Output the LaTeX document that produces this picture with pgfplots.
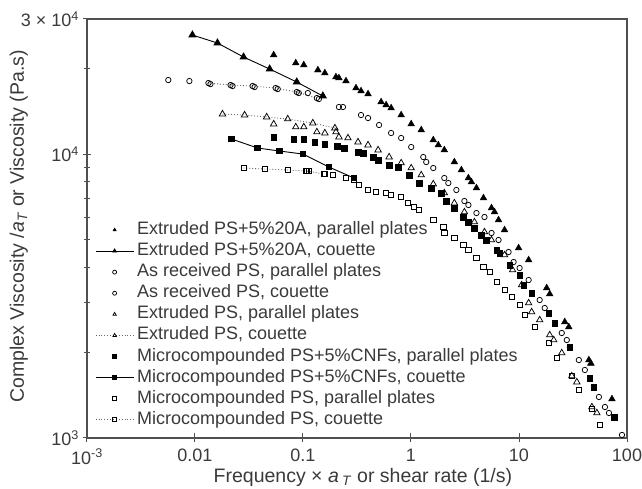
\documentclass[border=0pt]{standalone}
\usepackage{fontspec}
\setmainfont{Liberation Sans}
\usepackage{pgfplots}
\pgfplotsset{compat=1.18}
\definecolor{txt}{HTML}{3A3A3A}
\definecolor{ax}{HTML}{505050}
\pgfplotsset{
  marksonly legend/.style={legend image code/.code={\draw[only marks,mark repeat=2,mark phase=2,##1] plot coordinates {(0bp,0bp) (19bp,0bp) (38bp,0bp)};}},
}

\begin{document}
\begin{tikzpicture}
\path[use as bounding box] (-87bp,-51bp) rectangle (555bp,438bp);
\begin{axis}[
  xmode=log, ymode=log,
  scale only axis, width=540bp, height=419bp,
  xmin=0.001, xmax=100, ymin=1000, ymax=30000,
  axis line style={ax, line width=1.1bp},
  xtick pos=left, ytick pos=left,
  tick align=center,
  major tick length=9bp, minor tick length=7bp,
  every tick/.style={ax, line width=1bp},
  xtick={0.001,0.01,0.1,1,10,100},
  xticklabels={10\textsuperscript{-3},0.01,0.1,1,10,100},
  xminorticks=false,
  ytick={1000,10000,30000},
  yticklabels={10\textsuperscript{3},10\textsuperscript{4},3 × 10\textsuperscript{4}},
  minor ytick={2000,3000,4000,5000,6000,7000,8000,9000,20000},
  tick label style={font=\fontsize{18bp}{21bp}\selectfont, text=txt},
  xticklabel style={yshift=-3bp},
  xlabel={Frequency × \textit{a}\,\textsubscript{\textit{T}} or shear rate (1/s)},
  ylabel={Complex Viscosity /\textit{a}\textsubscript{\textit{T}} or Viscosity (Pa.s)},
  every axis x label/.style={at={(axis description cs:0.511,-0.095)}, anchor=center, font=\fontsize{19.5bp}{22bp}\selectfont, text=txt},
  every axis y label/.style={at={(axis description cs:-0.126,0.505)}, rotate=90, anchor=center, font=\fontsize{19.5bp}{22bp}\selectfont, text=txt},
  legend image code/.code={\draw[mark repeat=2,mark phase=2,#1] plot coordinates {(0bp,0bp) (19bp,0bp) (38bp,0bp)};},
  legend image post style={mark size=2bp},
  legend cell align=left,
  legend style={at={(axis description cs:0.0148,0.5185)}, anchor=north west,
    draw=none, fill=none, inner sep=0pt, row sep=3.1bp, column sep=3bp,
    font=\fontsize{18bp}{21bp}\selectfont, text=txt,
    nodes={inner sep=0pt, text height=13.5bp, text depth=4.5bp}},
]
% Extruded PS+5%20A, parallel plates
\addplot[only marks, black, mark=triangle*, mark size=3.9bp] table {
0.05353 22388
0.08572 20981
0.1017 20643
0.1373 19822
0.1594 19345
0.2018 18727
0.2151 18576
0.2499 18129
0.3095 17128
0.3445 16716
0.4001 16314
0.5285 15288
0.5882 14920
0.6546 14562
0.8108 13757
1.004 12788
1.244 12180
1.608 11231
1.790 10784
2.035 10355
2.521 9394
2.928 8804
3.401 8250
3.627 7987
4.036 7607
4.689 7014
5.564 6467
5.933 6261
6.463 5867
7.349 5410
9.916 4674
12.28 4241
18.05 3379
19.25 3218
26.54 2564
28.91 2462
44.36 1883
46.30 1833
72.57 1372
};
\addlegendentry{Extruded PS+5\%20A, parallel plates}
% Extruded PS+5%20A, couette
\addplot[black, line width=0.9bp, mark=triangle*, mark size=3.9bp] table {
0.00946 26333
0.01615 24678
0.02817 22028
0.04914 19984
0.08757 17983
0.1528 16051
};
\addlegendentry{Extruded PS+5\%20A, couette}
% As received PS, parallel plates
\addplot[only marks, black, line width=0.75bp, mark=o, mark size=2.7bp] table {
0.005659 18277
0.008870 18129
0.013902 17693
0.022262 17408
0.035648 17268
0.058316 16989
0.091402 16447
0.11081 16447
0.14022 15665
0.21510 14680
0.23435 14680
0.34448 13757
0.40014 13426
0.50636 12685
0.65462 11887
0.81082 11415
1.0043 10610
1.2984 9783
1.3844 9394
1.6082 8948
2.0351 8250
2.2171 7922
2.6309 7485
3.1221 6845
3.4011 6627
4.0362 6210
4.7900 6012
5.5642 5280
6.4634 4988
8.0057 4525
8.9100 4172
10.130 3974
12.283 3605
15.544 3065
17.297 2872
24.888 2345
27.700 2215
29.537 2093
35.813 1883
40.718 1737
49.37 1513
54.95 1395
62.48 1286
68.06 1225
89.87 1025
};
\addlegendentry{As received PS, parallel plates}
% As received PS, couette
\addplot[black!60, dotted, line width=0.9bp, mark=o, mark size=2.7bp,
  mark options={solid, black, line width=0.75bp}, marksonly legend] table {
0.013321 17837
0.021329 17550
0.034153 17408
0.055871 17128
0.087569 16581
0.13435 15793
};
\addlegendentry{As received PS, couette}
% Extruded PS, parallel plates
\addplot[only marks, black, line width=0.75bp, mark=triangle, mark size=3.7bp] table {
0.05353 12788
0.08572 12481
0.1017 12481
0.1344 11984
0.1594 11887
0.2018 11984
0.2151 11507
0.2608 11415
0.3230 11050
0.4001 10784
0.4956 10355
0.6272 9783
0.8108 9318
1.0043 8948
1.2440 8454
1.6082 7858
2.0351 7305
2.5206 6735
3.1221 6261
3.8671 5773
4.7900 5323
5.5642 4988
7.3487 4416
8.72 3910
10.573 3462
12.283 2991
13.097 2781
15.544 2606
19.251 2307
20.972 2215
24.888 1994
30.830 1654
34.312 1575
47.30 1286
52.65 1225
};
\addlegendentry{Extruded PS, parallel plates}
% Extruded PS, couette
\addplot[black!60, dotted, line width=0.9bp, mark=triangle, mark size=3.7bp,
  mark options={solid, black, line width=0.75bp}] table {
0.017973 13869
0.028779 13757
0.046083 13536
0.072227 13318
0.12333 12892
0.19749 12379
};
\addlegendentry{Extruded PS, couette}
% Microcompounded PS+5%CNFs, parallel plates
\addplot[only marks, black, mark=square*, mark size=2.8bp] table {
0.05353 11507
0.08213 11322
0.1017 11322
0.1287 11050
0.1594 10872
0.2062 10697
0.2394 10525
0.3230 10188
0.3596 10106
0.4453 9783
0.4956 9548
0.6272 9168
0.7604 9021
0.9622 8454
1.1918 7922
1.5408 7607
1.9085 7305
2.1241 6845
2.5206 6467
3.0560 6012
3.4011 5773
3.8671 5498
4.4921 5195
4.9995 4988
6.1926 4599
6.6032 4489
8.1788 4072
10.130 3755
11.036 3462
13.097 3244
18.843 2758
21.425 2543
29.537 2093
45.318 1627
49.37 1513
75.74 1186
};
\addlegendentry{Microcompounded PS+5\%CNFs, parallel plates}
% Microcompounded PS+5%CNFs, couette
\addplot[black, line width=0.9bp, mark=square*, mark size=2.8bp] table {
0.021791 11322
0.038009 10525
0.060865 10271
0.099570 10024
0.17369 9021
0.29655 8250
};
\addlegendentry{Microcompounded PS+5\%CNFs, couette}
% Microcompounded PS, parallel plates
\addplot[only marks, black, line width=0.75bp, mark=square, mark size=2.6bp] table {
0.04415 8875
0.07223 8804
0.1062 8732
0.1132 8732
0.1594 8522
0.1892 8454
0.2499 8250
0.2966 8117
0.3300 7794
0.4001 7485
0.4749 7364
0.5882 7305
0.6546 7187
0.8108 7071
0.9419 6735
1.0709 6520
1.1918 6363
1.6082 5867
1.9920 5543
2.0351 5280
2.5206 5070
3.0560 4790
3.4011 4599
4.0362 4310
4.6885 4006
5.3310 3847
6.1926 3547
7.3487 3324
8.5366 3141
10.130 2943
11.274 2714
13.966 2462
18.843 2162
22.362 1914
30.830 1654
35.813 1476
47.30 1265
56.14 1111
};
\addlegendentry{Microcompounded PS, parallel plates}
% Microcompounded PS, couette
\addplot[black!60, dotted, line width=0.9bp, mark=square, mark size=2.6bp,
  mark options={solid, black, line width=0.75bp}] table {
0.028171 8948
0.044151 8875
0.072227 8804
0.10846 8732
0.15607 8522
};
\addlegendentry{Microcompounded PS, couette}
\end{axis}
\end{tikzpicture}
\end{document}
